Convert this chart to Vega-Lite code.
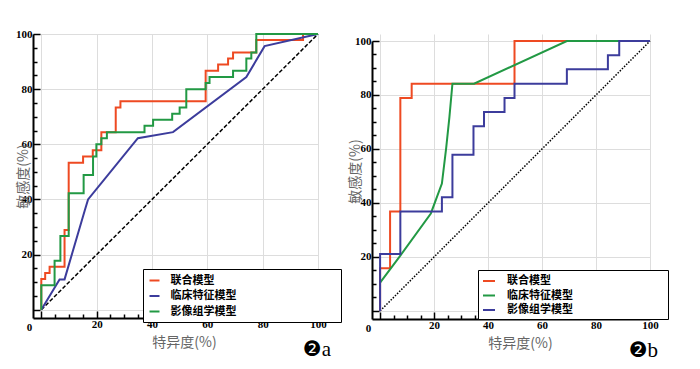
{
  "$schema": "https://vega.github.io/schema/vega-lite/v6.json",
  "background": "white",
  "padding": {"left": 15, "top": 28, "right": 0, "bottom": 0},
  "bounds": "flush",
  "spacing": 54,
  "datasets": {
    "diag": [{"x": 0, "y": 0}, {"x": 100, "y": 100}],
    "rocA": [
      {"m": "联合模型", "x": 0, "y": 0}, {"m": "联合模型", "x": 0, "y": 11.1}, {"m": "联合模型", "x": 1.4, "y": 11.1}, {"m": "联合模型", "x": 1.4, "y": 13.3}, {"m": "联合模型", "x": 3.0, "y": 13.3}, {"m": "联合模型", "x": 3.0, "y": 15.6}, {"m": "联合模型", "x": 8.4, "y": 15.6}, {"m": "联合模型", "x": 8.4, "y": 28.9}, {"m": "联合模型", "x": 9.9, "y": 28.9}, {"m": "联合模型", "x": 9.9, "y": 53.3}, {"m": "联合模型", "x": 15.1, "y": 53.3}, {"m": "联合模型", "x": 15.1, "y": 55.6}, {"m": "联合模型", "x": 18.6, "y": 55.6}, {"m": "联合模型", "x": 18.6, "y": 57.8}, {"m": "联合模型", "x": 21.7, "y": 57.8}, {"m": "联合模型", "x": 21.7, "y": 64.4}, {"m": "联合模型", "x": 26.9, "y": 64.4}, {"m": "联合模型", "x": 26.9, "y": 73.3}, {"m": "联合模型", "x": 28.6, "y": 73.3}, {"m": "联合模型", "x": 28.6, "y": 75.6}, {"m": "联合模型", "x": 59.4, "y": 75.6}, {"m": "联合模型", "x": 59.4, "y": 86.7}, {"m": "联合模型", "x": 63.9, "y": 86.7}, {"m": "联合模型", "x": 63.9, "y": 88.9}, {"m": "联合模型", "x": 67.5, "y": 88.9}, {"m": "联合模型", "x": 67.5, "y": 91.1}, {"m": "联合模型", "x": 69.3, "y": 91.1}, {"m": "联合模型", "x": 69.3, "y": 93.3}, {"m": "联合模型", "x": 77.7, "y": 93.3}, {"m": "联合模型", "x": 77.7, "y": 97.8}, {"m": "联合模型", "x": 94.6, "y": 97.8}, {"m": "联合模型", "x": 94.6, "y": 100}, {"m": "联合模型", "x": 100, "y": 100},
      {"m": "临床特征模型", "x": 0, "y": 0}, {"m": "临床特征模型", "x": 6.6, "y": 11}, {"m": "临床特征模型", "x": 8.4, "y": 11}, {"m": "临床特征模型", "x": 15.7, "y": 36}, {"m": "临床特征模型", "x": 16.9, "y": 40}, {"m": "临床特征模型", "x": 34.9, "y": 62.2}, {"m": "临床特征模型", "x": 47.6, "y": 64.4}, {"m": "临床特征模型", "x": 74.1, "y": 84.4}, {"m": "临床特征模型", "x": 80.7, "y": 95.6}, {"m": "临床特征模型", "x": 100, "y": 100},
      {"m": "影像组学模型", "x": 0, "y": 0}, {"m": "影像组学模型", "x": 0, "y": 8.9}, {"m": "影像组学模型", "x": 4.8, "y": 8.9}, {"m": "影像组学模型", "x": 4.8, "y": 17.8}, {"m": "影像组学模型", "x": 6.9, "y": 17.8}, {"m": "影像组学模型", "x": 6.9, "y": 26.7}, {"m": "影像组学模型", "x": 9.9, "y": 26.7}, {"m": "影像组学模型", "x": 9.9, "y": 42.2}, {"m": "影像组学模型", "x": 15.3, "y": 42.2}, {"m": "影像组学模型", "x": 15.3, "y": 48.9}, {"m": "影像组学模型", "x": 18.7, "y": 48.9}, {"m": "影像组学模型", "x": 18.7, "y": 55.6}, {"m": "影像组学模型", "x": 19.9, "y": 55.6}, {"m": "影像组学模型", "x": 19.9, "y": 60}, {"m": "影像组学模型", "x": 21.7, "y": 60}, {"m": "影像组学模型", "x": 21.7, "y": 62.2}, {"m": "影像组学模型", "x": 23.7, "y": 62.2}, {"m": "影像组学模型", "x": 23.7, "y": 64.4}, {"m": "影像组学模型", "x": 37.3, "y": 64.4}, {"m": "影像组学模型", "x": 37.3, "y": 66.7}, {"m": "影像组学模型", "x": 40.4, "y": 66.7}, {"m": "影像组学模型", "x": 40.4, "y": 68.9}, {"m": "影像组学模型", "x": 47.3, "y": 68.9}, {"m": "影像组学模型", "x": 47.3, "y": 71.1}, {"m": "影像组学模型", "x": 50, "y": 71.1}, {"m": "影像组学模型", "x": 50, "y": 73.3}, {"m": "影像组学模型", "x": 52.4, "y": 73.3}, {"m": "影像组学模型", "x": 52.4, "y": 80}, {"m": "影像组学模型", "x": 59.4, "y": 80}, {"m": "影像组学模型", "x": 59.4, "y": 82.2}, {"m": "影像组学模型", "x": 60.8, "y": 82.2}, {"m": "影像组学模型", "x": 60.8, "y": 84.4}, {"m": "影像组学模型", "x": 69.3, "y": 84.4}, {"m": "影像组学模型", "x": 69.3, "y": 86.7}, {"m": "影像组学模型", "x": 74.1, "y": 86.7}, {"m": "影像组学模型", "x": 74.1, "y": 91.1}, {"m": "影像组学模型", "x": 75.9, "y": 91.1}, {"m": "影像组学模型", "x": 75.9, "y": 93.3}, {"m": "影像组学模型", "x": 77.7, "y": 93.3}, {"m": "影像组学模型", "x": 77.7, "y": 100}, {"m": "影像组学模型", "x": 100, "y": 100}
    ],
    "rocB": [
      {"m": "联合模型", "x": 0, "y": 0}, {"m": "联合模型", "x": 0, "y": 15.8}, {"m": "联合模型", "x": 3.7, "y": 15.8}, {"m": "联合模型", "x": 3.7, "y": 36.8}, {"m": "联合模型", "x": 7.5, "y": 36.8}, {"m": "联合模型", "x": 7.5, "y": 78.9}, {"m": "联合模型", "x": 11.7, "y": 78.9}, {"m": "联合模型", "x": 11.7, "y": 84.2}, {"m": "联合模型", "x": 49.8, "y": 84.2}, {"m": "联合模型", "x": 49.8, "y": 100}, {"m": "联合模型", "x": 100, "y": 100},
      {"m": "临床特征模型", "x": 0, "y": 10.5}, {"m": "临床特征模型", "x": 7.5, "y": 20.5}, {"m": "临床特征模型", "x": 18.8, "y": 36.1}, {"m": "临床特征模型", "x": 22.9, "y": 47.2}, {"m": "临床特征模型", "x": 24.5, "y": 60.5}, {"m": "临床特征模型", "x": 25.7, "y": 72}, {"m": "临床特征模型", "x": 26.8, "y": 84.2}, {"m": "临床特征模型", "x": 34.8, "y": 84.2}, {"m": "临床特征模型", "x": 69.2, "y": 100}, {"m": "临床特征模型", "x": 100, "y": 100},
      {"m": "影像组学模型", "x": 0, "y": 0}, {"m": "影像组学模型", "x": 0, "y": 21.1}, {"m": "影像组学模型", "x": 7.5, "y": 21.1}, {"m": "影像组学模型", "x": 7.5, "y": 36.8}, {"m": "影像组学模型", "x": 22.9, "y": 36.8}, {"m": "影像组学模型", "x": 22.9, "y": 42.1}, {"m": "影像组学模型", "x": 26.8, "y": 42.1}, {"m": "影像组学模型", "x": 26.8, "y": 57.9}, {"m": "影像组学模型", "x": 34.6, "y": 57.9}, {"m": "影像组学模型", "x": 34.6, "y": 68.4}, {"m": "影像组学模型", "x": 38.5, "y": 68.4}, {"m": "影像组学模型", "x": 38.5, "y": 73.7}, {"m": "影像组学模型", "x": 46.1, "y": 73.7}, {"m": "影像组学模型", "x": 46.1, "y": 78.9}, {"m": "影像组学模型", "x": 49.8, "y": 78.9}, {"m": "影像组学模型", "x": 49.8, "y": 84.2}, {"m": "影像组学模型", "x": 69.2, "y": 84.2}, {"m": "影像组学模型", "x": 69.2, "y": 89.5}, {"m": "影像组学模型", "x": 84.4, "y": 89.5}, {"m": "影像组学模型", "x": 84.4, "y": 94.7}, {"m": "影像组学模型", "x": 88.6, "y": 94.7}, {"m": "影像组学模型", "x": 88.6, "y": 100}, {"m": "影像组学模型", "x": 100, "y": 100}
    ]
  },
  "hconcat": [
    {
      "width": 285,
      "height": 284,
      "title": {"text": "❷a", "orient": "bottom", "anchor": "end", "frame": "group", "baseline": "top", "offset": 0, "dx": 13, "dy": -10, "font": "Liberation Serif, DejaVu Sans", "fontSize": 21, "fontWeight": "normal", "color": "black"},
      "layer": [
        {
          "data": {"name": "diag"},
          "mark": {"type": "line", "color": "black", "strokeDash": [4, 2], "strokeWidth": 1.5},
          "encoding": {
            "x": {"field": "x", "type": "quantitative", "scale": {"domain": [-3, 100], "nice": false, "zero": false}},
            "y": {"field": "y", "type": "quantitative", "scale": {"domain": [-3, 100], "nice": false, "zero": false}}
          }
        },
        {
          "data": {"name": "rocA"},
          "mark": {"type": "line", "strokeWidth": 2},
          "encoding": {
            "x": {"field": "x", "type": "quantitative", "scale": {"domain": [-3, 100], "nice": false, "zero": false},
              "axis": {"title": "特异度(%)", "titleX": 151, "titleY": 24, "titleBaseline": "middle", "tickCount": 100,
                "values": [-3, 0, 5, 10, 15, 20, 25, 30, 35, 40, 45, 50, 55, 60, 65, 70, 75, 80, 85, 90, 95, 100],
                "format": "d",
                "labelOverlap": false, "labelFlush": false, "labelBound": false,
                "labelExpr": "datum.value < 0 ? '0' : ((datum.value % 20 == 0 && datum.value > 0) ? format(datum.value, 'd') : '')",
                "labelOffset": {"condition": {"test": "datum.value < 0", "value": -4}, "value": 0},
                "tickOpacity": {"condition": {"test": "datum.value < 0", "value": 0}, "value": 1},
                "tickSize": {"condition": {"test": "datum.value % 20 == 0", "value": -7}, "value": -4},
                "gridOpacity": {"condition": {"test": "datum.value % 20 == 0", "value": 1}, "value": 0}}},
            "y": {"field": "y", "type": "quantitative", "scale": {"domain": [-3, 100], "nice": false, "zero": false},
              "axis": {"title": "敏感度(%)", "titleX": -10, "titleY": 142, "titleBaseline": "middle", "tickCount": 100,
                "values": [0, 5, 10, 15, 20, 25, 30, 35, 40, 45, 50, 55, 60, 65, 70, 75, 80, 85, 90, 95, 100],
                "labelExpr": "datum.value % 20 == 0 && datum.value > 0 ? datum.label : ''",
                "labelPadding": 8,
                "tickSize": {"condition": {"test": "datum.value % 20 == 0", "value": -7}, "value": -4},
                "gridOpacity": {"condition": {"test": "datum.value % 20 == 0", "value": 1}, "value": 0}}},
            "color": {"field": "m", "type": "nominal",
              "scale": {"domain": ["联合模型", "临床特征模型", "影像组学模型"], "range": ["#ee4a22", "#3c3c9c", "#229944"]},
              "legend": {"orient": "none", "legendX": 110, "legendY": 235, "title": "⠀⠀⠀⠀⠀⠀⠀⠀⠀⠀⠀⠀", "titleOrient": "right", "titleFont": "DejaVu Sans", "titleFontSize": 10,
                "padding": 5.5, "rowPadding": 4.5, "strokeColor": "black", "fillColor": "white", "symbolType": "stroke", "symbolStrokeWidth": 2, "symbolSize": 100, "labelOffset": 10,
                "labelFont": "Noto Sans CJK SC", "labelFontWeight": "bold", "labelFontSize": 11, "labelColor": "black"}},
            "order": {"value": null}
          }
        }
      ]
    },
    {
      "width": 278,
      "height": 285,
      "title": {"text": "❷b", "orient": "bottom", "anchor": "end", "frame": "group", "baseline": "top", "offset": 0, "dx": 8, "dy": -10, "font": "Liberation Serif, DejaVu Sans", "fontSize": 21, "fontWeight": "normal", "color": "black"},
      "layer": [
        {
          "data": {"name": "diag"},
          "mark": {"type": "line", "color": "black", "strokeDash": [1.5, 1.5], "strokeWidth": 1.5},
          "encoding": {
            "x": {"field": "x", "type": "quantitative", "scale": {"domain": [-3, 100], "nice": false, "zero": false}},
            "y": {"field": "y", "type": "quantitative", "scale": {"domain": [-3, 100], "nice": false, "zero": false, "range": [285, 7]}}
          }
        },
        {
          "data": {"name": "rocB"},
          "mark": {"type": "line", "strokeWidth": 2},
          "encoding": {
            "x": {"field": "x", "type": "quantitative", "scale": {"domain": [-3, 100], "nice": false, "zero": false},
              "axis": {"title": "特异度(%)", "titleX": 148, "titleY": 24, "titleBaseline": "middle", "tickCount": 100,
                "values": [-3, 0, 5, 10, 15, 20, 25, 30, 35, 40, 45, 50, 55, 60, 65, 70, 75, 80, 85, 90, 95, 100],
                "format": "d",
                "labelOverlap": false, "labelFlush": false, "labelBound": false,
                "labelExpr": "datum.value < 0 ? '0' : ((datum.value % 20 == 0 && datum.value > 0) ? format(datum.value, 'd') : '')",
                "labelOffset": {"condition": {"test": "datum.value < 0", "value": -4}, "value": 0},
                "tickOpacity": {"condition": {"test": "datum.value < 0", "value": 0}, "value": 1},
                "tickSize": {"condition": {"test": "datum.value % 20 == 0", "value": -7}, "value": -4},
                "gridOpacity": {"condition": {"test": "datum.value % 20 == 0", "value": 1}, "value": 0}}},
            "y": {"field": "y", "type": "quantitative", "scale": {"domain": [-3, 100], "nice": false, "zero": false, "range": [285, 7]},
              "axis": {"title": "敏感度(%)", "titleX": -17, "titleY": 137, "titleBaseline": "middle", "tickCount": 100,
                "values": [0, 5, 10, 15, 20, 25, 30, 35, 40, 45, 50, 55, 60, 65, 70, 75, 80, 85, 90, 95, 100],
                "labelExpr": "datum.value % 20 == 0 && datum.value > 0 ? datum.label : ''",
                "labelPadding": 8,
                "tickSize": {"condition": {"test": "datum.value % 20 == 0", "value": -7}, "value": -4},
                "gridOpacity": {"condition": {"test": "datum.value % 20 == 0", "value": 1}, "value": 0}}},
            "color": {"field": "m", "type": "nominal",
              "scale": {"domain": ["联合模型", "临床特征模型", "影像组学模型"], "range": ["#ee4a22", "#229944", "#3c3c9c"]},
              "legend": {"orient": "none", "legendX": 106, "legendY": 236, "title": "⠀⠀⠀⠀⠀⠀⠀⠀⠀⠀⠀", "titleOrient": "right", "titleFont": "DejaVu Sans", "titleFontSize": 10,
                "padding": 4, "rowPadding": 2.5, "strokeColor": "black", "fillColor": "white", "symbolType": "stroke", "symbolStrokeWidth": 2, "symbolSize": 144, "labelOffset": 11,
                "labelFont": "Noto Sans CJK SC", "labelFontWeight": "bold", "labelFontSize": 11, "labelColor": "black"}},
            "order": {"value": null}
          }
        }
      ]
    }
  ],
  "resolve": {"scale": {"color": "independent"}},
  "config": {
    "view": {"stroke": null},
    "axis": {
      "domainColor": "black", "domainWidth": 2,
      "tickColor": "black", "tickWidth": 1.5,
      "gridColor": "#dddddd", "gridWidth": 1,
      "labelFont": "Liberation Serif", "labelFontWeight": "bold", "labelFontSize": 11, "labelColor": "black", "labelPadding": 7,
      "labelOverlap": false, "labelFlush": false,
      "titleFont": "Noto Sans CJK SC", "titleFontWeight": "normal", "titleFontSize": 14, "titleColor": "#666666"
    }
  }
}
